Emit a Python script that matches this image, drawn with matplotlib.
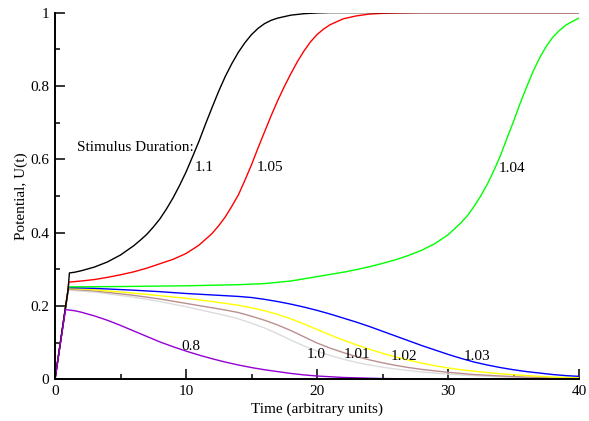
import matplotlib
matplotlib.use("Agg")
import matplotlib.pyplot as plt
from matplotlib.ticker import MultipleLocator

# ---- data ----
t_08 = [0, 0.8, 1.5, 2, 3, 4, 5, 6, 7, 8, 9, 10, 11, 12, 13, 14, 15, 16, 17, 18, 19, 20, 22, 25, 30, 40]
u_08 = [0, 0.190, 0.187, 0.183, 0.173, 0.161, 0.147, 0.132, 0.117, 0.102, 0.089, 0.077, 0.066, 0.056,
        0.047, 0.039, 0.032, 0.026, 0.021, 0.016, 0.012, 0.009, 0.005, 0.002, 0.0005, 0.0]

t_100 = [0, 1.0, 3, 6, 8, 10, 12, 13, 14, 15, 16, 17, 18, 19, 20, 21, 22, 23, 24, 25, 26, 27, 28, 30, 32, 35, 40]
u_100 = [0, 0.243, 0.238, 0.224, 0.212, 0.198, 0.182, 0.174, 0.165, 0.153, 0.140, 0.124, 0.107, 0.091,
         0.077, 0.065, 0.055, 0.046, 0.039, 0.033, 0.028, 0.024, 0.020, 0.014, 0.010, 0.005, 0.001]

t_101 = [0, 1.01, 3, 6, 8, 10, 12, 13, 14, 15, 16, 17, 18, 19, 20, 21, 22, 23, 24, 25, 26, 27, 28, 29, 30,
         32, 34, 36, 38, 40]
u_101 = [0, 0.246, 0.241, 0.229, 0.219, 0.207, 0.195, 0.189, 0.182, 0.172, 0.161, 0.148, 0.133, 0.116,
         0.099, 0.085, 0.073, 0.062, 0.053, 0.045, 0.038, 0.032, 0.027, 0.023, 0.019, 0.013, 0.009, 0.006,
         0.004, 0.002]

t_102 = [0, 1.02, 3, 6, 8, 10, 12, 13, 14, 15, 16, 17, 18, 19, 20, 21, 22, 23, 24, 25, 26, 27, 28, 29, 30,
         31, 32, 34, 36, 38, 40]
u_102 = [0, 0.248, 0.244, 0.235, 0.228, 0.221, 0.212, 0.207, 0.202, 0.195, 0.187, 0.177, 0.165, 0.151,
         0.136, 0.121, 0.107, 0.094, 0.082, 0.071, 0.061, 0.052, 0.044, 0.037, 0.031, 0.026, 0.022, 0.015,
         0.010, 0.006, 0.004]

t_103 = [0, 1.03, 3, 6, 8, 10, 12, 14, 15, 16, 17, 18, 19, 20, 21, 22, 23, 24, 25, 26, 27, 28, 29, 30, 31,
         32, 33, 34, 35, 36, 37, 38, 39, 40]
u_103 = [0, 0.250, 0.248, 0.243, 0.239, 0.234, 0.230, 0.226, 0.223, 0.218, 0.212, 0.205, 0.197, 0.188,
         0.178, 0.167, 0.156, 0.144, 0.131, 0.118, 0.105, 0.092, 0.080, 0.068, 0.057, 0.047, 0.039, 0.032,
         0.026, 0.021, 0.017, 0.013, 0.010, 0.008]

t_104 = [0, 1.04, 5, 10, 14, 16, 18, 20, 21, 22, 23, 24, 25, 26, 27, 28, 29, 30, 31, 31.5, 32, 32.5, 33,
         33.5, 34, 34.5, 35, 35.5, 36, 36.5, 37, 37.5, 38, 38.5, 39, 39.5, 40]
u_104 = [0, 0.252, 0.253, 0.255, 0.258, 0.261, 0.268, 0.280, 0.286, 0.292, 0.299, 0.307, 0.316, 0.326,
         0.338, 0.352, 0.370, 0.394, 0.427, 0.447, 0.472, 0.500, 0.532, 0.569, 0.610, 0.657, 0.703, 0.752,
         0.797, 0.840, 0.877, 0.908, 0.933, 0.951, 0.966, 0.976, 0.985]

t_105 = [0, 1.0, 1.05, 2, 3, 4, 5, 6, 7, 8, 9, 10, 11, 12, 12.5, 13, 13.5, 14, 14.5, 15, 15.5, 16, 16.5,
         17, 17.5, 18, 18.5, 19, 19.5, 20, 20.5, 21, 22, 23, 24, 25, 26, 28, 40]
u_105 = [0, 0.245, 0.265, 0.268, 0.272, 0.278, 0.285, 0.293, 0.303, 0.315, 0.327, 0.343, 0.366, 0.398,
         0.419, 0.443, 0.472, 0.503, 0.543, 0.585, 0.631, 0.675, 0.719, 0.760, 0.798, 0.833, 0.866, 0.895,
         0.920, 0.940, 0.955, 0.967, 0.983, 0.991, 0.996, 0.998, 0.999, 1.0, 1.0]

t_110 = [0, 1.0, 1.1, 1.5, 2, 3, 4, 5, 6, 6.5, 7, 7.5, 8, 8.5, 9, 9.5, 10, 10.5, 11, 11.5, 12, 12.5, 13,
         13.5, 14, 14.5, 15, 15.5, 16, 16.5, 17, 18, 19, 20, 21, 40]
u_110 = [0, 0.245, 0.290, 0.292, 0.296, 0.306, 0.320, 0.339, 0.364, 0.379, 0.395, 0.415, 0.437, 0.464,
         0.494, 0.528, 0.565, 0.607, 0.650, 0.697, 0.742, 0.786, 0.826, 0.861, 0.892, 0.918, 0.940, 0.957,
         0.970, 0.979, 0.985, 0.993, 0.997, 0.999, 1.0, 1.0]

# curve labels
lab_text = ["Stimulus Duration:", "1.1", "1.05", "1.04", "0.8", "1.0", "1.01", "1.02", "1.03"]
lab_t = [1.68, 10.69, 15.42, 33.9, 9.62, 19.2, 22.0, 25.6, 31.2]
lab_u = [0.623, 0.568, 0.568, 0.565, 0.080, 0.058, 0.058, 0.053, 0.053]

xticks = [0, 10, 20, 30, 40]
xticklabels = ["0", "10", "20", "30", "40"]
yticks = [0, 0.2, 0.4, 0.6, 0.8, 1.0]
yticklabels = ["0", "0.2", "0.4", "0.6", "0.8", "1"]

plt.rcParams['font.family'] = ['Liberation Serif', 'DejaVu Serif']

fig = plt.figure(figsize=(5.89, 4.21), dpi=100)
ax = fig.add_axes([55/589, (421-379.3)/421, 524/589, 366.7/421])

series = [
    (t_100, u_100, (220/255, 220/255, 220/255)),
    (t_101, u_101, (188/255, 143/255, 143/255)),
    (t_102, u_102, (1.0, 1.0, 0.0)),
    (t_103, u_103, (0.0, 0.0, 1.0)),
    (t_104, u_104, (0.0, 1.0, 0.0)),
    (t_105, u_105, (1.0, 0.0, 0.0)),
    (t_110, u_110, (0.0, 0.0, 0.0)),
    (t_08, u_08, (148/255, 0.0, 211/255)),
]
for t, u, c in series:
    ax.plot(t, u, color=c, lw=1.0, solid_joinstyle='round')

for s, x, y in zip(lab_text, lab_t, lab_u):
    ax.text(x, y, s, fontsize=11, ha='left', va='baseline')

ax.set_xlim(0, 40)
ax.set_ylim(0, 1)
ax.set_xticks(xticks)
ax.set_xticklabels(xticklabels)
ax.set_yticks(yticks)
ax.set_yticklabels(yticklabels)
ax.xaxis.set_minor_locator(MultipleLocator(5))
ax.yaxis.set_minor_locator(MultipleLocator(0.1))

for side in ['top', 'right']:
    ax.spines[side].set_visible(False)
for side in ['left', 'bottom']:
    ax.spines[side].set_linewidth(1.4)

ax.tick_params(which='major', direction='in', length=7.2, width=1.1, labelsize=11, pad=4)
ax.tick_params(which='minor', direction='in', length=3.6, width=1.1)
ax.tick_params(top=False, right=False, which='both')

ax.set_xlabel("Time (arbitrary units)", fontsize=11, labelpad=3)
ax.set_ylabel("Potential, U(t)", fontsize=11, labelpad=2)

fig.savefig("out.png", dpi=100)
